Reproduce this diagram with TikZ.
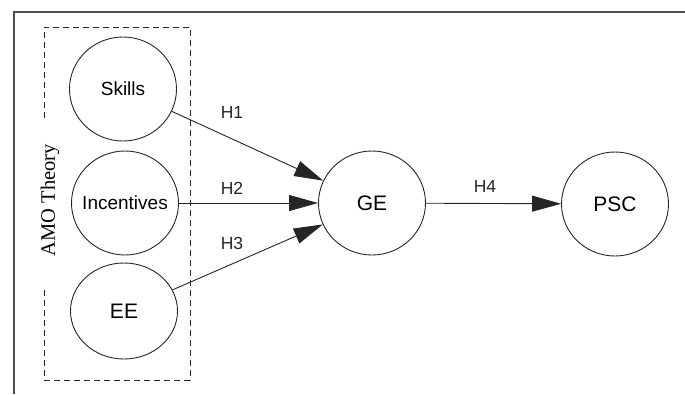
\documentclass[tikz,border=0pt]{standalone}
\usepackage{fontspec}
\setmainfont{Liberation Sans}
\newfontfamily\serifa{Liberation Serif}
\usetikzlibrary{arrows.meta,shapes.geometric}
\tikzset{
  var/.style={draw=black!85, line width=0.9pt, ellipse, minimum width=107pt, minimum height=104pt, inner sep=0pt, font=\fontsize{19}{21}\selectfont},
  bigvar/.style={var, font=\fontsize{21}{23}\selectfont},
  conn/.style={draw=black!85, line width=0.9pt, -{Triangle[length=29pt,width=16pt]}},
  hlab/.style={font=\fontsize{17.5}{19}\selectfont, text=black!85},
  frame/.style={draw=black!70, line width=1.5pt},
  amo/.style={draw=black!85, line width=0.9pt, dash pattern=on 6pt off 4pt}
}
\begin{document}
\begin{tikzpicture}[x=1pt,y=-1pt]
\useasboundingbox (0,0) rectangle (685,394);
% frame (top and left edges)
\coordinate (ftl) at (14,12);
\coordinate (ftr) at (685,12);
\coordinate (fbl) at (14,394);
\draw[frame] (ftr) -- (ftl) -- (fbl);
% dashed AMO box with gap for label
\coordinate (b1) at (44,118);
\coordinate (b2) at (44,27);
\coordinate (b3) at (190,27);
\coordinate (b4) at (190,380);
\coordinate (b5) at (44,380);
\coordinate (b6) at (44,288);
\draw[amo] (b1) -- (b2) -- (b3) -- (b4) -- (b5) -- (b6);
\node[font=\serifa\fontsize{20.5}{22}\selectfont, rotate=90, inner sep=0pt] (amo) at (50,200) {AMO Theory};
% nodes
\node[var] (skills) at (123,89) {Skills};
\node[var, label={[font=\fontsize{19}{21}\selectfont, inner sep=0pt]center:Incentives}] (inc) at (125,203) {};
\node[bigvar, minimum height=96pt] (ee) at (124,311) {EE};
\node[bigvar] (ge) at (372,203) {GE};
\node[bigvar] (psc) at (615,204) {PSC};
% connectors
\draw[conn] (skills) -- (ge);
\draw[conn] (inc) -- (ge);
\draw[conn] (ee) -- (ge);
\draw[conn] (ge) -- (psc);
% labels
\node[hlab] (h1) at (232,112) {H1};
\node[hlab] (h2) at (232,188) {H2};
\node[hlab] (h3) at (232,243) {H3};
\node[hlab] (h4) at (485,186) {H4};
\end{tikzpicture}
\end{document}
